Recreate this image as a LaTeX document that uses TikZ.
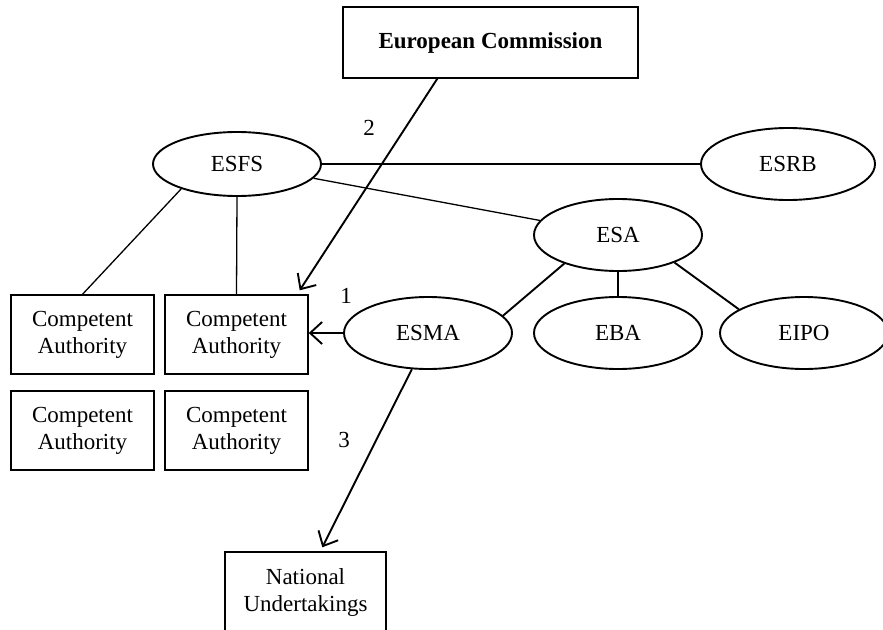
\documentclass[tikz,border=0pt]{standalone}
\usepackage{fontspec}
\setmainfont{Liberation Serif}
\usetikzlibrary{shapes.geometric,arrows.meta}
\begin{document}
\begin{tikzpicture}[x=1pt,y=-1pt,
  every node/.style={font=\fontsize{23}{27}\selectfont},
  box/.style={draw,line width=1.4pt,rectangle,inner sep=0pt,align=center},
  oval/.style={draw,line width=1.9pt,ellipse,inner sep=0pt,minimum width=168pt,minimum height=72pt},
  thin/.style={line width=1.3pt},
  thick/.style={line width=1.9pt},
  arr/.style={line width=1.9pt,-{Straight Barb[length=12pt,width=22pt,line width=1.9pt]}},
  lbl/.style={inner sep=0pt}]
\useasboundingbox (0,0) rectangle (883,629);
\clip (0,0) rectangle (883,629);
\node[box,minimum width=295pt,minimum height=71pt,font=\fontsize{23}{27}\selectfont\bfseries] (EC) at (490.5,42.5) {European Commission};
\node[box,minimum width=143pt,minimum height=79pt] (CA1) at (82.5,334.5) {Competent\\Authority};
\node[box,minimum width=143pt,minimum height=79pt] (CA2) at (236.5,334.5) {Competent\\Authority};
\node[box,minimum width=143pt,minimum height=79pt] (CA3) at (82.5,430.5) {Competent\\Authority};
\node[box,minimum width=143pt,minimum height=79pt] (CA4) at (236.5,430.5) {Competent\\Authority};
\node[box,minimum width=161pt,minimum height=80pt] (NU) at (305.5,592) {National\\Undertakings};
\node[oval,minimum height=64pt] (ESFS) at (237,164) {ESFS};
\node[oval,minimum width=174pt] (ESRB) at (788,164) {ESRB};
\node[oval] (ESA) at (618,235) {ESA};
\node[oval] (ESMA) at (428,333) {ESMA};
\node[oval] (EBA) at (618,333) {EBA};
\node[oval] (EIPO) at (804,333) {EIPO};
\node[lbl] (L1) at (346,296) {1};
\node[lbl] (L2) at (369,128) {2};
\node[lbl] (L3) at (344,440) {3};
\draw[thin] (ESFS.east) -- (ESRB.west);
\draw[thin] (ESFS) -- (ESA);
\draw[thin] (ESFS.204) -- (CA1.north);
\draw[thin] (ESFS.south) -- (CA2.north);
\draw[thick] (ESA.208) -- (ESMA.13);
\draw[thick] (ESA.south) -- (EBA.north);
\draw[thick] (ESA.334) -- (EIPO.160);
\draw[arr] ([xshift=95pt]EC.south west) -- ([xshift=-9pt,yshift=4pt]CA2.north east);
\draw[arr] (ESMA.west) -- (ESMA.west -| CA2.east);
\draw[arr] (ESMA.246) -- ([xshift=98pt,yshift=4pt]NU.north west);
\end{tikzpicture}
\end{document}
